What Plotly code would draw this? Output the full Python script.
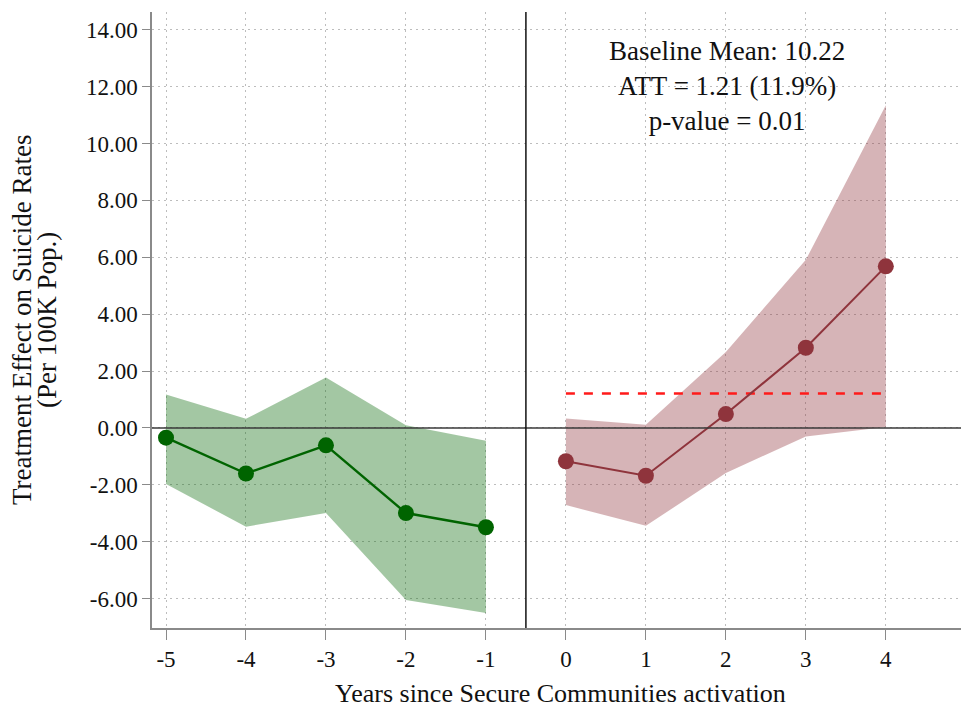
import plotly.graph_objects as go

pre_years = [-5, -4, -3, -2, -1]
pre_est = [-0.34, -1.60, -0.61, -2.99, -3.49]
pre_hi = [1.18, 0.32, 1.77, 0.10, -0.45]
pre_lo = [-1.97, -3.47, -2.99, -6.05, -6.50]

post_years = [0, 1, 2, 3, 4]
post_est = [-1.17, -1.68, 0.49, 2.82, 5.68]
post_hi = [0.33, 0.11, 2.67, 5.91, 11.34]
post_lo = [-2.71, -3.44, -1.58, -0.30, 0.03]

att = 1.21
x_ticks = [-5, -4, -3, -2, -1, 0, 1, 2, 3, 4]
x_ticktext = ["-5", "-4", "-3", "-2", "-1", "0", "1", "2", "3", "4"]
y_ticks = [-6, -4, -2, 0, 2, 4, 6, 8, 10, 12, 14]
y_ticktext = ["-6.00", "-4.00", "-2.00", "0.00", "2.00", "4.00", "6.00",
              "8.00", "10.00", "12.00", "14.00"]

GREEN = "#006400"
GREEN_FILL = "rgba(0,100,0,0.36)"
RED = "#8f343c"
RED_FILL = "rgba(143,52,60,0.37)"
FONT = "Liberation Serif"
GRID = "#bdbdbd"

W, H = 961, 705
ML, MR, MT, MB = 144, 0, 4, 85
PW, PH = W - ML - MR, H - MT - MB

fig = go.Figure()

fig.add_trace(go.Scatter(x=pre_years + pre_years[::-1], y=pre_hi + pre_lo[::-1],
                         fill="toself", fillcolor=GREEN_FILL, line=dict(width=0),
                         mode="lines", hoverinfo="skip", showlegend=False))
fig.add_trace(go.Scatter(x=post_years + post_years[::-1], y=post_hi + post_lo[::-1],
                         fill="toself", fillcolor=RED_FILL, line=dict(width=0),
                         mode="lines", hoverinfo="skip", showlegend=False))

fig.add_hline(y=0, line=dict(color="#3a3a3a", width=1.5), layer="above")
fig.add_vline(x=-0.5, line=dict(color="#111111", width=1.5), layer="above")

fig.add_trace(go.Scatter(x=[post_years[0], post_years[-1]], y=[att, att], mode="lines",
                         line=dict(color="#ff1a1a", width=2.4, dash="dash"),
                         showlegend=False))

fig.add_trace(go.Scatter(x=pre_years, y=pre_est, mode="lines+markers",
                         line=dict(color=GREEN, width=2.4),
                         marker=dict(color=GREEN, size=16), showlegend=False))
fig.add_trace(go.Scatter(x=post_years, y=post_est, mode="lines+markers",
                         line=dict(color=RED, width=2),
                         marker=dict(color=RED, size=16), showlegend=False))

fig.add_annotation(x=2.01, y=13.85, xref="x", yref="y", yanchor="top",
                   text="Baseline Mean: 10.22<br>ATT = 1.21 (11.9%)<br>p-value = 0.01",
                   showarrow=False, align="center",
                   font=dict(family=FONT, size=27, color="#111111"))

# axis titles
fig.add_annotation(x=0.5, y=-65 / PH, xref="paper", yref="paper", yanchor="middle",
                   text="Years since Secure Communities activation", showarrow=False,
                   font=dict(family=FONT, size=26, color="#111111"))
fig.add_annotation(x=(14 - ML) / PW, y=0.5, xref="paper", yref="paper",
                   xanchor="center", yanchor="middle",
                   text="Treatment Effect on Suicide Rates",
                   textangle=-90, showarrow=False,
                   font=dict(family=FONT, size=27, color="#111111"))
fig.add_annotation(x=(39 - ML) / PW, y=0.5, xref="paper", yref="paper",
                   xanchor="center", yanchor="middle",
                   text="(Per 100K Pop.)",
                   textangle=-90, showarrow=False,
                   font=dict(family=FONT, size=27, color="#111111"))

fig.update_layout(
    width=W, height=H,
    margin=dict(l=ML, r=MR, t=MT, b=MB),
    paper_bgcolor="white", plot_bgcolor="white",
    font=dict(family=FONT, size=20, color="#111111"),
)
fig.update_xaxes(range=[-5.175, 5.04], tickmode="array", tickvals=x_ticks,
                 ticktext=x_ticktext, showline=True, linecolor="#8a8a8a", linewidth=1.5,
                 ticks="outside", ticklen=10, tickcolor="#8a8a8a", tickwidth=1.3,
                 showgrid=True, gridcolor=GRID, griddash="2px,4px", gridwidth=1,
                 zeroline=False, tickfont=dict(size=23), automargin=False)
fig.update_yaxes(range=[-7.03, 14.62], tickmode="array", tickvals=y_ticks,
                 ticktext=y_ticktext, showline=True, linecolor="#8a8a8a", linewidth=1.5,
                 ticks="outside", ticklen=8, tickcolor="#8a8a8a", tickwidth=1.3,
                 showgrid=True, gridcolor=GRID, griddash="2px,4px", gridwidth=1,
                 zeroline=False, tickfont=dict(size=23), automargin=False)

fig.write_html("out.html")
